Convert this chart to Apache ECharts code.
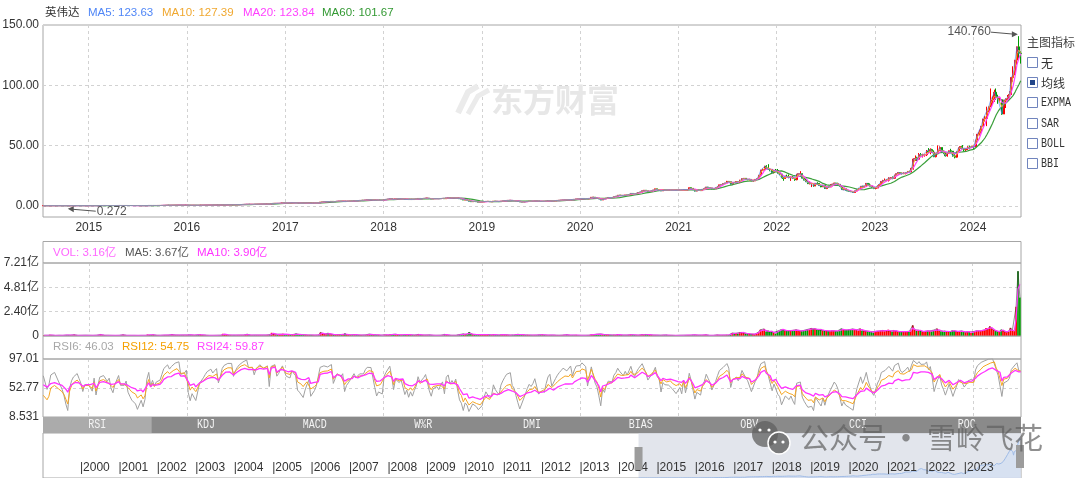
<!DOCTYPE html>
<html><head><meta charset="utf-8">
<script src="https://cdn.jsdelivr.net/npm/echarts@6/dist/echarts.min.js"></script>
<style>html,body{margin:0;padding:0;background:#fff}#c{width:1080px;height:478px}</style>
</head><body><div id="c"></div>
<script>
// ---------- weekly closes (adjusted) ----------
const c2014 = [0.32,0.32,0.30,0.31,0.34,0.34,0.35,0.35,0.34,0.34,0.33,0.32,0.30,0.272,0.32,0.35,0.37,0.38,0.39,0.38,0.37,0.35,0.37,0.37];
const c2015 = [0.37,0.37,0.36,0.39,0.35,0.38,0.42,0.43,0.43,0.43,0.42,0.43,0.41,0.40,0.42,0.42,0.45,0.43,0.43,0.43,0.44,0.42,0.41,0.40,0.40,0.39,0.37,0.37,0.38,0.36,0.37,0.42,0.46,0.42,0.45,0.43,0.45,0.46,0.46,0.49,0.54,0.55,0.59,0.58,0.61,0.63,0.67,0.67,0.70,0.67,0.68,0.68];
const c2016 = [0.70,0.63,0.58,0.61,0.61,0.57,0.56,0.65,0.66,0.69,0.72,0.75,0.77,0.78,0.77,0.79,0.81,0.77,0.81,0.91,0.98,1.04,1.05,1.05,1.05,1.01,1.07,1.13,1.19,1.26,1.31,1.34,1.45,1.41,1.41,1.42,1.39,1.48,1.50,1.59,1.62,1.60,1.63,1.66,1.55,2.09,2.18,2.23,2.09,2.19,2.39,2.63,2.55];
const c2017 = [2.48,2.53,2.49,2.74,2.76,2.70,2.48,2.44,2.41,2.34,2.44,2.53,2.62,2.34,2.35,2.43,2.51,2.49,3.30,3.31,3.45,3.69,3.64,3.73,3.87,3.52,3.72,3.99,4.09,4.00,4.15,3.68,3.91,4.02,4.15,4.11,4.50,4.41,4.37,4.64,4.74,4.71,4.95,5.13,5.30,5.27,5.27,4.94,4.69,4.79,4.78,4.74];
const c2018 = [5.29,5.53,5.67,6.10,5.84,5.38,6.02,6.04,5.91,6.07,6.04,5.54,5.71,5.37,5.57,5.37,5.57,5.74,6.28,6.09,6.14,6.34,6.54,6.54,6.07,5.84,6.11,6.17,6.19,6.11,6.24,6.34,6.04,6.74,6.91,6.62,6.81,6.71,6.94,6.57,6.04,5.79,4.92,5.24,5.00,3.99,3.54,4.00,3.77,3.62,3.19,3.24];
const c2019 = [3.33,3.63,3.86,3.86,3.56,3.63,4.06,3.88,3.86,3.68,4.03,4.23,4.42,4.61,4.66,4.71,4.43,4.36,4.13,3.83,3.38,3.32,3.58,3.56,3.88,4.04,3.98,4.08,4.26,4.23,3.88,3.86,3.96,3.91,4.12,4.36,4.48,4.23,4.23,4.48,4.63,4.76,4.88,5.03,5.11,5.06,5.13,5.35,5.21,5.53,5.88,5.91];
const c2020 = [5.93,6.25,6.23,6.20,5.86,6.28,7.25,7.33,6.72,6.53,6.00,4.95,6.18,5.85,6.58,7.05,7.03,7.00,7.75,8.10,8.98,8.83,8.83,8.65,9.18,9.03,9.55,10.45,10.15,9.98,10.57,11.18,11.50,12.63,13.10,12.55,12.10,12.13,12.78,13.28,14.28,13.70,13.55,12.49,13.60,13.40,13.25,13.38,13.50,13.20,13.25,12.93];
const c2021 = [13.02,13.22,12.92,13.69,12.96,13.59,15.17,14.62,13.68,12.39,13.14,12.99,12.79,13.79,14.34,15.69,15.34,14.98,14.24,14.17,15.24,16.21,17.54,17.79,18.59,19.04,20.44,20.11,18.12,19.56,19.47,20.34,19.95,20.77,22.61,22.97,22.17,21.87,22.07,20.77,20.77,22.07,22.67,25.54,29.72,30.17,32.95,31.47,30.57,30.37,27.67,29.57,29.38];
const c2022 = [27.18,26.48,23.35,22.82,24.68,24.08,23.58,24.14,22.88,21.78,26.38,26.68,26.78,23.08,21.48,20.08,18.53,18.68,18.68,16.68,18.79,18.70,16.96,15.88,17.11,14.50,15.82,15.78,17.30,18.14,19.08,18.68,17.98,16.28,13.63,14.28,13.08,12.48,12.12,12.06,11.21,12.45,13.81,14.14,16.31,15.39,16.50,18.77,17.48,16.48,15.19,14.59];
const c2023 = [14.85,16.88,17.83,20.36,21.09,21.33,21.38,23.28,23.39,22.95,25.72,26.77,27.77,27.03,26.77,27.11,27.74,28.69,28.33,31.25,38.94,39.32,38.76,42.68,42.20,42.29,42.49,45.46,44.30,46.74,44.67,40.84,43.29,46.01,48.50,45.56,43.89,41.60,43.49,45.75,45.45,41.38,40.49,45.00,48.33,49.29,47.77,46.56,47.50,48.88,48.82,49.52];
const c2024 = [49.01,54.73,59.49,61.03,66.16,72.13,72.61,78.81,82.23,87.50,87.88,94.28,90.36,88.00,88.10,76.20,87.70,88.80,89.90,92.50,106.50,109.60,120.90,131.90,126.60,126.40];

// ---------- weekly highs / lows where the candles are tall enough to see ----------
const hi2021 = [13.40,13.60,13.45,14.10,13.80,13.70,15.30,15.40,14.70,13.80,13.40,13.50,13.10,13.90,15.10,15.80,15.90,15.50,15.00,14.40,15.30,16.30,17.60,17.90,18.70,19.20,20.80,20.70,20.20,19.80,20.00,20.50,20.60,21.80,22.90,23.10,23.00,22.30,22.60,22.20,21.40,22.20,22.80,25.60,30.00,31.00,33.30,33.80,34.65,31.30,30.10,29.80,30.70];
const lo2021 = [12.70,12.85,12.75,12.90,12.80,12.90,13.55,14.40,13.20,12.10,12.20,12.70,12.40,12.70,13.70,14.30,15.00,14.80,13.90,13.50,14.20,15.20,16.20,17.30,17.80,18.30,19.00,19.60,17.90,17.50,19.10,19.30,19.60,19.00,20.70,22.20,21.90,21.40,21.20,20.50,20.40,20.70,21.90,22.50,25.30,28.90,29.80,31.00,30.20,28.80,27.20,27.00,29.10];
const hi2022 = [30.70,27.80,26.50,24.00,25.10,26.00,26.10,24.40,24.90,23.40,26.50,26.90,28.90,26.70,23.20,22.80,20.50,20.50,18.90,18.80,18.90,19.70,19.00,17.10,17.50,17.20,16.10,16.70,18.10,18.40,19.30,19.20,19.30,18.00,15.90,14.40,14.50,13.70,12.90,13.10,12.10,12.70,13.90,14.80,16.50,16.80,16.70,18.90,18.80,18.70,16.50,15.60];
const lo2022 = [26.90,25.80,23.20,20.90,22.50,23.80,23.00,20.80,22.60,20.90,21.30,25.30,26.40,22.90,21.30,19.90,18.20,17.90,15.70,16.00,16.40,18.40,16.90,15.60,15.80,14.10,14.00,15.00,15.70,16.30,17.50,17.60,17.70,16.20,13.50,13.10,12.90,12.30,11.90,11.50,10.81,11.20,12.20,13.20,13.80,15.30,15.30,15.70,16.90,16.40,14.90,14.00];
const hi2023 = [15.00,17.00,18.00,20.40,21.70,22.80,22.40,23.80,23.90,24.50,25.80,27.10,27.80,28.10,27.80,27.90,27.80,29.00,29.20,31.90,39.50,41.90,40.80,43.90,43.90,43.30,43.20,46.40,48.00,47.80,47.40,46.10,44.00,50.20,49.40,48.50,46.00,44.60,43.80,46.00,47.40,45.50,43.00,45.20,48.40,49.60,50.50,48.00,47.70,49.50,50.00,49.90];
const lo2023 = [14.00,14.80,16.20,17.70,19.00,20.90,20.60,20.30,22.60,22.20,22.60,25.30,25.80,26.30,26.20,26.40,26.20,27.20,27.80,28.00,30.10,37.40,37.40,38.50,41.00,40.20,40.90,41.40,43.70,42.90,44.00,40.50,40.30,43.00,46.00,45.00,43.00,41.00,40.90,43.20,44.80,41.00,39.50,40.00,44.70,47.50,47.00,45.30,45.20,46.50,47.10,48.20];
const hi2024 = [49.60,54.90,59.50,63.40,66.20,72.20,74.60,82.30,82.30,97.40,90.90,96.40,97.40,92.20,90.60,88.60,88.00,89.10,92.00,95.20,106.90,115.80,121.00,132.00,140.76,128.10];
const lo2024 = [47.30,49.00,54.30,58.40,60.00,66.10,70.00,66.20,77.60,82.00,84.00,86.30,88.00,84.70,86.00,75.61,76.20,81.20,88.00,89.00,92.00,103.00,108.40,117.00,122.00,118.00];

// ---------- weekly average daily volume (亿 shares) ----------
const vol2014 = [0.07,0.06,0.07,0.12,0.08,0.06,0.05,0.06,0.07,0.06,0.06,0.07,0.09,0.10,0.08,0.07,0.13,0.08,0.06,0.05,0.07,0.06,0.08,0.04];
const vol2015 = [0.07,0.07,0.06,0.06,0.08,0.07,0.15,0.09,0.07,0.06,0.07,0.06,0.06,0.06,0.05,0.06,0.06,0.07,0.13,0.08,0.06,0.06,0.06,0.05,0.06,0.06,0.05,0.06,0.06,0.07,0.06,0.14,0.08,0.09,0.12,0.08,0.07,0.07,0.07,0.08,0.08,0.07,0.09,0.08,0.15,0.09,0.10,0.08,0.09,0.08,0.10,0.06];
const vol2016 = [0.10,0.12,0.11,0.09,0.08,0.09,0.12,0.14,0.09,0.08,0.08,0.07,0.06,0.07,0.06,0.06,0.07,0.07,0.08,0.22,0.14,0.12,0.10,0.09,0.08,0.09,0.08,0.09,0.09,0.10,0.09,0.10,0.18,0.11,0.08,0.08,0.09,0.10,0.09,0.10,0.09,0.08,0.09,0.09,0.14,0.32,0.20,0.15,0.17,0.16,0.18,0.22,0.14];
const vol2017 = [0.20,0.14,0.12,0.13,0.12,0.22,0.18,0.14,0.13,0.12,0.11,0.10,0.10,0.10,0.09,0.08,0.09,0.10,0.35,0.22,0.18,0.20,0.28,0.18,0.15,0.16,0.12,0.13,0.14,0.12,0.14,0.26,0.15,0.12,0.11,0.11,0.14,0.13,0.10,0.10,0.09,0.09,0.11,0.12,0.20,0.12,0.10,0.12,0.11,0.10,0.08,0.06];
const vol2018 = [0.12,0.11,0.10,0.14,0.14,0.20,0.18,0.12,0.10,0.11,0.10,0.17,0.15,0.14,0.11,0.10,0.10,0.10,0.16,0.11,0.09,0.10,0.10,0.09,0.11,0.08,0.07,0.06,0.07,0.07,0.08,0.09,0.16,0.11,0.08,0.09,0.07,0.08,0.07,0.11,0.15,0.14,0.21,0.15,0.12,0.38,0.20,0.16,0.14,0.13,0.17,0.12];
const vol2019 = [0.14,0.15,0.12,0.14,0.13,0.11,0.17,0.11,0.10,0.10,0.12,0.14,0.12,0.12,0.10,0.09,0.11,0.10,0.12,0.17,0.16,0.12,0.12,0.10,0.11,0.09,0.08,0.08,0.09,0.09,0.11,0.12,0.14,0.10,0.08,0.08,0.10,0.09,0.08,0.08,0.08,0.07,0.08,0.09,0.08,0.13,0.10,0.07,0.08,0.08,0.11,0.06];
const vol2020 = [0.06,0.07,0.07,0.07,0.09,0.08,0.14,0.12,0.16,0.18,0.17,0.20,0.16,0.14,0.12,0.13,0.10,0.10,0.11,0.10,0.17,0.10,0.10,0.09,0.10,0.09,0.09,0.13,0.12,0.10,0.08,0.08,0.09,0.14,0.10,0.15,0.14,0.13,0.10,0.09,0.10,0.08,0.07,0.08,0.08,0.10,0.12,0.06,0.08,0.07,0.08,0.05];
const vol2021 = [0.06,0.07,0.06,0.08,0.09,0.07,0.10,0.08,0.11,0.11,0.10,0.08,0.09,0.08,0.09,0.12,0.08,0.06,0.06,0.06,0.08,0.11,0.09,0.08,0.10,0.09,0.11,0.09,0.12,0.30,0.28,0.26,0.24,0.35,0.40,0.30,0.25,0.23,0.21,0.20,0.19,0.18,0.22,0.38,0.62,0.50,0.70,0.42,0.55,0.42,0.50,0.35,0.25];
const vol2022 = [0.48,0.50,0.62,0.68,0.55,0.52,0.50,0.58,0.55,0.58,0.62,0.55,0.48,0.50,0.55,0.58,0.65,0.60,0.75,0.68,0.72,0.62,0.58,0.70,0.55,0.55,0.52,0.50,0.48,0.55,0.52,0.48,0.45,0.62,0.72,0.60,0.58,0.60,0.62,0.65,0.70,0.62,0.60,0.55,0.72,0.55,0.50,0.52,0.48,0.45,0.42,0.35];
const vol2023 = [0.45,0.50,0.48,0.52,0.55,0.48,0.52,0.62,0.50,0.48,0.55,0.52,0.45,0.42,0.40,0.45,0.44,0.42,0.40,0.55,1.05,0.60,0.50,0.58,0.55,0.42,0.45,0.48,0.52,0.50,0.48,0.58,0.52,0.72,0.50,0.45,0.48,0.52,0.42,0.45,0.44,0.55,0.50,0.48,0.42,0.45,0.50,0.42,0.38,0.45,0.40,0.30];
const vol2024 = [0.42,0.48,0.52,0.50,0.50,0.55,0.60,0.78,0.68,0.95,0.72,0.62,0.48,0.45,0.42,0.62,0.58,0.42,0.38,0.40,0.80,0.55,0.48,2.90,6.40,3.80];

// ---------- axes, ticks and texts ----------
const FIRST_WEEK = '2014-07-16';
const VIEW_START = '2014-07-15', VIEW_END = '2024-06-27';
const NAV_START = '1999-01-15', NAV_END = '2024-06-27';
const yearTicks = ['2015-01-01','2016-01-01','2017-01-01','2018-01-01','2019-01-01','2020-01-01','2021-01-01','2022-01-01','2023-01-01','2024-01-01'];
const navTicks = ['2000','2001','2002','2003','2004','2005','2006','2007','2008','2009','2010','2011','2012','2013','2014','2015','2016','2017','2018','2019','2020','2021','2022','2023'].map(y => y + '-01-01');
const priceTicks = [0, 50, 100, 150];
const volTicks = [0, 2.4033, 4.8067, 7.21];
const rsiTicks = [8.531, 52.77, 97.01];
const mainHeader = [['英伟达','#333333',45],['MA5: 123.63','#4f86f7',88],['MA10: 127.39','#f0a830',162],['MA20: 123.84','#ff40ff',243],['MA60: 101.67','#339933',322]];
const volHeader = [['VOL: 3.16亿','#ff66ff',53],['MA5: 3.67亿','#555555',125],['MA10: 3.90亿','#ff33ff',197]];
const rsiHeader = [['RSI6: 46.03','#a8a8a8',53],['RSI12: 54.75','#f5a000',122],['RSI24: 59.87','#ff44ff',197]];
const tabs = ['RSI','KDJ','MACD','W%R','DMI','BIAS','OBV','CCI','ROC'];
const indicators = ['无','均线','EXPMA','SAR','BOLL','BBI'];

// ---------- build ----------
const DAY = 86400000;
const ts = s => Date.parse(s + 'T00:00:00Z');
const closes = [].concat(c2014,c2015,c2016,c2017,c2018,c2019,c2020,c2021,c2022,c2023,c2024);
const vols = [].concat(vol2014,vol2015,vol2016,vol2017,vol2018,vol2019,vol2020,vol2021,vol2022,vol2023,vol2024);
const hiK = [].concat(hi2021,hi2022,hi2023,hi2024);
const loK = [].concat(lo2021,lo2022,lo2023,lo2024);
const nK = closes.length - hiK.length;
const t0 = ts(FIRST_WEEK);
const dates = closes.map((_, i) => t0 + i * 7 * DAY);
const opens = closes.map((c, i) => i ? closes[i - 1] : c);
const highs = closes.map((c, i) => i >= nK ? hiK[i - nK] : Math.max(c, opens[i]));
const lows = closes.map((c, i) => i >= nK ? loK[i - nK] : Math.min(c, opens[i]));

function ma(arr, n) {
  return arr.map((_, i) => { const s = Math.max(0, i - n + 1); let sum = 0; for (let k = s; k <= i; k++) sum += arr[k]; return sum / (i - s + 1); });
}
function rsi(c, n) {
  let up = 0, dn = 0;
  for (let k = 1; k <= n; k++) { const d = c[k] - c[k - 1]; up += Math.max(d, 0); dn += Math.abs(d); }
  up /= n; dn /= n;
  const out = [up / dn * 100];
  for (let i = 1; i < c.length; i++) {
    const d = c[i] - c[i - 1];
    up = (Math.max(d, 0) + (n - 1) * up) / n; dn = (Math.abs(d) + (n - 1) * dn) / n;
    out.push(dn > 0 ? up / dn * 100 : 50);
  }
  return out;
}
const pair = arr => dates.map((d, i) => [d, arr[i]]);
const UP = '#ff0000', DOWN = '#009a00';
const FONT = '"Liberation Sans", "Noto Sans CJK SC", sans-serif';
const AX = { color: '#333', fontSize: 12, fontFamily: FONT };
const dash = { show: true, lineStyle: { color: '#d2d2d2', type: [3, 3], width: 1 } };
const border = { show: true, borderColor: '#a6a6a6', borderWidth: 1, backgroundColor: 'transparent', outerBoundsMode: 'none', containLabel: false };

function timeAxis(grid, showLabel) {
  return {
    type: 'time', gridIndex: grid, min: ts(VIEW_START), max: ts(VIEW_END),
    axisLine: { show: false }, axisTick: { show: false, customValues: yearTicks.map(ts) },
    axisLabel: Object.assign({ show: showLabel, customValues: yearTicks.map(ts), formatter: '{yyyy}', margin: 5, hideOverlap: false }, AX),
    splitLine: dash
  };
}
function valAxis(grid, min, max, ticks, fmt) {
  return {
    type: 'value', gridIndex: grid, min, max, scale: true,
    axisLine: { show: false }, axisTick: { show: false, customValues: ticks },
    axisLabel: Object.assign({ customValues: ticks, formatter: fmt, margin: 4, showMinLabel: true, showMaxLabel: true }, AX),
    splitLine: dash
  };
}

const chart = echarts.init(document.getElementById('c'), null, { renderer: 'canvas' });
const option = {
  animation: false, useUTC: true, backgroundColor: '#fff',
  textStyle: { fontFamily: FONT },
  grid: [
    Object.assign({ left: 43, top: 25, width: 978, height: 192 }, border),
    Object.assign({ left: 43, top: 263, width: 978, height: 73 }, border),
    Object.assign({ left: 43, top: 359, width: 978, height: 58 }, border),
    Object.assign({ left: 43, top: 433, width: 978, height: 45 }, border)
  ],
  xAxis: [
    timeAxis(0, true), timeAxis(1, false), timeAxis(2, false),
    {
      type: 'time', gridIndex: 3, min: ts(NAV_START), max: ts(NAV_END), z: 20,
      axisLine: { show: false }, axisTick: { show: false, customValues: navTicks.map(ts) },
      axisLabel: Object.assign({ inside: true, customValues: navTicks.map(ts), formatter: '|{yyyy}', align: 'left', margin: 4, hideOverlap: false }, AX),
      splitLine: { show: false }
    }
  ],
  yAxis: [
    valAxis(0, -9.1, 150, priceTicks, v => v.toFixed(2)),
    valAxis(1, 0, 7.21, volTicks, v => v === 0 ? '0' : v.toFixed(2) + '亿'),
    valAxis(2, 8.531, 97.01, rsiTicks, v => String(v)),
    { type: 'value', gridIndex: 3, min: 0, max: 150, show: false, splitLine: { show: false } }
  ],
  series: [
    {
      type: 'candlestick', xAxisIndex: 0, yAxisIndex: 0, barWidth: 1.5,
      encode: { x: 0, y: [1, 2, 3, 4] },
      data: dates.map((d, i) => [d, opens[i], closes[i], lows[i], highs[i]]),
      itemStyle: { color: UP, color0: DOWN, borderColor: UP, borderColor0: DOWN, borderWidth: 1 }
    },
    { type: 'line', name: 'MA60', xAxisIndex: 0, yAxisIndex: 0, showSymbol: false, symbol: 'none', data: pair(ma(closes, 12)), lineStyle: { color: '#3a9f3a', width: 1.2 } },
    { type: 'line', name: 'MA20', xAxisIndex: 0, yAxisIndex: 0, showSymbol: false, symbol: 'none', data: pair(ma(closes, 4)), lineStyle: { color: '#ff40ff', width: 1.2 } },
    { type: 'line', name: 'MA10', xAxisIndex: 0, yAxisIndex: 0, showSymbol: false, symbol: 'none', data: pair(ma(closes, 2)), lineStyle: { color: '#f0a830', width: 1 } },
    { type: 'line', name: 'MA5', xAxisIndex: 0, yAxisIndex: 0, showSymbol: false, symbol: 'none', data: pair(closes), lineStyle: { color: '#4f86f7', width: 0.8, opacity: 0.8 } },
    {
      type: 'bar', xAxisIndex: 1, yAxisIndex: 1, barWidth: 1.7,
      data: dates.map((d, i) => ({ value: [d, vols[i]], itemStyle: { color: closes[i] >= opens[i] ? UP : DOWN } }))
    },
    { type: 'line', xAxisIndex: 1, yAxisIndex: 1, symbol: 'none', data: pair(vols), lineStyle: { color: '#333', width: 0.8, opacity: 0.7 } },
    { type: 'line', xAxisIndex: 1, yAxisIndex: 1, symbol: 'none', data: pair(ma(vols, 2)), lineStyle: { color: '#ff33ff', width: 1.2 } },
    { type: 'line', xAxisIndex: 2, yAxisIndex: 2, symbol: 'none', data: pair(rsi(closes, 6)), lineStyle: { color: '#a0a0a0', width: 1 } },
    { type: 'line', xAxisIndex: 2, yAxisIndex: 2, symbol: 'none', data: pair(rsi(closes, 12)), lineStyle: { color: '#f5a623', width: 1 } },
    { type: 'line', xAxisIndex: 2, yAxisIndex: 2, symbol: 'none', data: pair(rsi(closes, 24)), lineStyle: { color: '#ff33ff', width: 1.3 } },
    {
      type: 'line', xAxisIndex: 3, yAxisIndex: 3, symbol: 'none', silent: true, z: 1,
      data: pair(closes), lineStyle: { color: '#9fbbe6', width: 1 }, areaStyle: { color: '#d3e0f3' },
      markArea: { silent: true, itemStyle: { color: 'rgba(214,218,228,0.7)' }, data: [[{ xAxis: ts(VIEW_START) }, { xAxis: ts(VIEW_END) }]] }
    }
  ]
};
chart.setOption(option);

// ---------- overlay graphics ----------
const G = [];
const txt = (x, y, text, fill, font, align) => ({ type: 'text', x, y, z: 50, silent: true,
  style: { text, fill, font, textAlign: align || 'left', align: align || 'left', textVerticalAlign: 'middle', verticalAlign: 'middle' } });
const F12 = '11.5px ' + FONT;
const MONO = '10px "Liberation Mono", monospace';
// watermark
G.push({ type: 'polyline', z: 1, shape: { points: [[458, 113], [468, 92], [478, 86]] }, style: { stroke: '#ebebeb', lineWidth: 6, fill: null } });
G.push({ type: 'polyline', z: 1, shape: { points: [[468, 114], [478, 96], [489, 90]] }, style: { stroke: '#ebebeb', lineWidth: 5, fill: null } });
G.push(txt(491, 100, '东方财富', '#e7e7e7', 'bold 32px "Noto Sans CJK SC", sans-serif'));
// headers
mainHeader.forEach(([t, c, x]) => G.push(txt(x, 13, t, c, F12)));
volHeader.forEach(([t, c, x]) => G.push(txt(x, 253, t, c, F12)));
rsiHeader.forEach(([t, c, x]) => G.push(txt(x, 347, t, c, F12)));
// header boxes of the lower panels
G.push({ type: 'rect', z: 5, shape: { x: 43, y: 241.5, width: 978, height: 21.5 }, style: { fill: null, stroke: '#a6a6a6', lineWidth: 1 } });
G.push({ type: 'rect', z: 5, shape: { x: 43, y: 336, width: 978, height: 23 }, style: { fill: null, stroke: '#a6a6a6', lineWidth: 1 } });
// tab bar
G.push({ type: 'rect', z: 10, shape: { x: 43, y: 417, width: 978, height: 16 }, style: { fill: '#8a8a8a' } });
const tw = 978 / tabs.length;
G.push({ type: 'rect', z: 11, shape: { x: 43, y: 417, width: tw, height: 16 }, style: { fill: '#ababab' } });
tabs.forEach((t, i) => G.push(Object.assign(txt(43 + tw * (i + 0.5), 425, t, '#f4f4f4', MONO, 'center'), { z: 12, scaleY: 1.25 })));
// right indicator list
G.push(txt(1027, 42, '主图指标', '#444', '12px "Noto Sans CJK SC", sans-serif'));
indicators.forEach((t, i) => {
  const cy = [63, 83, 103, 124, 144, 164][i];
  G.push({ type: 'rect', z: 20, shape: { x: 1027.5, y: cy - 5.5, width: 10, height: 10 }, style: { fill: '#fff', stroke: '#7084bd', lineWidth: 1 } });
  if (i === 1) G.push({ type: 'rect', z: 21, shape: { x: 1030, y: cy - 3, width: 5, height: 5 }, style: { fill: '#23468a' } });
  const cjk = /[\u4e00-\u9fff]/.test(t);
  if (cjk) G.push(txt(1041, cy, t, '#333', '12px "Noto Sans CJK SC", sans-serif'));
  else G.push(Object.assign(txt(1041, cy, t, '#333', MONO), { scaleY: 1.3 }));
});
// max / min annotations from the data
let iMax = 0, iMin = 0;
highs.forEach((h, i) => { if (h > highs[iMax]) iMax = i; });
lows.forEach((l, i) => { if (l < lows[iMin]) iMin = i; });
const pMax = chart.convertToPixel({ gridIndex: 0 }, [dates[iMax], highs[iMax]]);
const pMin = chart.convertToPixel({ gridIndex: 0 }, [dates[iMin], lows[iMin]]);
const ARW = '#555';
G.push({ type: 'polyline', z: 40, shape: { points: [[pMax[0] - 28, pMax[1] - 4], [pMax[0] - 5, pMax[1] - 2]] }, style: { stroke: ARW, lineWidth: 1, fill: null } });
G.push({ type: 'polygon', z: 40, shape: { points: [[pMax[0] - 1, pMax[1] - 2], [pMax[0] - 7, pMax[1] - 5], [pMax[0] - 7, pMax[1] + 1]] }, style: { fill: ARW } });
G.push(txt(pMax[0] - 28, pMax[1] - 4, highs[iMax].toFixed(3), '#555', '12px ' + FONT, 'right'));
G.push({ type: 'polyline', z: 40, shape: { points: [[pMin[0] + 4, pMin[1] + 3.5], [pMin[0] + 28, pMin[1] + 5.5]] }, style: { stroke: ARW, lineWidth: 1, fill: null } });
G.push({ type: 'polygon', z: 40, shape: { points: [[pMin[0], pMin[1] + 3], [pMin[0] + 6, pMin[1] + 0.5], [pMin[0] + 6, pMin[1] + 6.5]] }, style: { fill: ARW } });
G.push(txt(pMin[0] + 29, pMin[1] + 5.5, lows[iMin].toFixed(3), '#555', '12px ' + FONT, 'left'));
// navigator handles
const hs = chart.convertToPixel({ xAxisIndex: 3 }, ts(VIEW_START));
const he = chart.convertToPixel({ xAxisIndex: 3 }, ts(VIEW_END));
G.push({ type: 'rect', z: 30, shape: { x: hs - 4, y: 447, width: 8, height: 23 }, style: { fill: '#9c9c9c' } });
G.push({ type: 'rect', z: 30, shape: { x: he - 5, y: 445, width: 8, height: 23 }, style: { fill: '#9c9c9c' } });
// WeChat watermark
G.push({ type: 'circle', z: 90, shape: { cx: 765, cy: 434, r: 13 }, style: { fill: 'rgba(95,95,95,0.75)' } });
G.push({ type: 'circle', z: 91, shape: { cx: 779, cy: 443, r: 11 }, style: { fill: 'rgba(95,95,95,0.8)', stroke: '#fff', lineWidth: 1.5 } });
[[760, 430], [769, 430], [775, 442], [783, 442]].forEach(([x, y]) => G.push({ type: 'circle', z: 92, shape: { cx: x, cy: y, r: 1.6 }, style: { fill: '#fff' } }));
G.push(Object.assign(txt(800, 438, '公众号', 'rgba(95,95,95,0.7)', '29px "Noto Sans CJK SC", sans-serif'), { z: 90 }));
G.push(Object.assign(txt(906, 438, '·', 'rgba(95,95,95,0.7)', 'bold 29px "Noto Sans CJK SC", sans-serif', 'center'), { z: 90 }));
G.push(Object.assign(txt(927, 438, '雪岭飞花', 'rgba(95,95,95,0.7)', '29px "Noto Sans CJK SC", sans-serif'), { z: 90 }));
chart.setOption({ graphic: { elements: G } });
</script>
</body></html>
